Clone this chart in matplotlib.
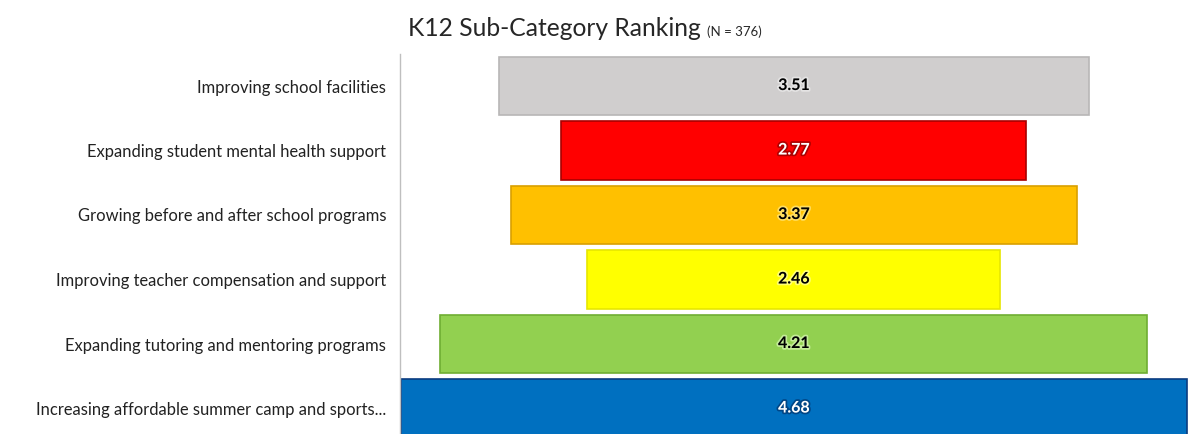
import matplotlib
matplotlib.use("Agg")
import matplotlib.pyplot as plt
import matplotlib.patheffects as pe
from matplotlib.transforms import offset_copy

categories = [
    "Improving school facilities",
    "Expanding student mental health support",
    "Growing before and after school programs",
    "Improving teacher compensation and support",
    "Expanding tutoring and mentoring programs",
    "Increasing affordable summer camp and sports...",
]
scores = [3.51, 2.77, 3.37, 2.46, 4.21, 4.68]
fill_colors = ["#D0CECE", "#FF0000", "#FFC000", "#FFFF00", "#92D050", "#0070C0"]
edge_colors = ["#B8B6B6", "#A80000", "#D9A000", "#E6E600", "#6FAE32", "#0A3C80"]
text_colors = ["black", "white", "black", "black", "black", "white"]
glow_colors = ["#F2F2F2", "#7A0000", "#FFF3A0", "#FFFFC0", "#E6FFC8", "#002A60"]

plt.rcParams["font.family"] = ["Lato", "DejaVu Sans"]

W, H = 1188, 434
fig = plt.figure(figsize=(W / 100, H / 100), dpi=100)

ax_left, ax_right = 400, 1188
ax_top, ax_bottom = 53.75, 440.75
ax = fig.add_axes([ax_left / W, (H - ax_bottom) / H,
                   (ax_right - ax_left) / W, (ax_bottom - ax_top) / H])

# Funnel: each bar is centred on half of the largest score
peak = max(scores)
centre = peak / 2
positions = list(range(len(categories)))
offsets = [centre - v / 2 for v in scores]

ax.barh(positions, scores, left=offsets, height=0.91,
        color=fill_colors, edgecolor=edge_colors, linewidth=1.2, zorder=2)

for y, v, x0, tc, gc in zip(positions, scores, offsets, text_colors, glow_colors):
    ax.text(x0 + v / 2, y, f"{v:.2f}", ha="center", va="center",
            fontsize=11.5, fontweight="bold", color=tc, zorder=3,
            path_effects=[pe.withStroke(linewidth=2.5, foreground=gc, alpha=0.6)])

ax.set_xlim(-0.006, 4.687)
ax.set_ylim(len(categories) - 0.5, -0.5)
ax.set_yticks(positions)
ax.set_yticklabels(categories, fontsize=11.9, color="#222222")
ax.tick_params(axis="y", length=0, pad=10)
ax.set_xticks([])
for side in ["top", "right", "bottom"]:
    ax.spines[side].set_visible(False)
ax.spines["left"].set_color("#BFBFBF")
ax.spines["left"].set_linewidth(1.0)

title = fig.text(408 / W, 1 - 36 / H, "K12 Sub-Category Ranking", fontsize=17.7,
                 color="#262626", ha="left", va="baseline")
fig.canvas.draw()
bb = title.get_window_extent(fig.canvas.get_renderer())
fig.text(bb.x1 / W + 6 / W, 1 - 36 / H, "(N = 376)", fontsize=9.5,
         color="#262626", ha="left", va="baseline")

fig.savefig("out.png", dpi=100)
